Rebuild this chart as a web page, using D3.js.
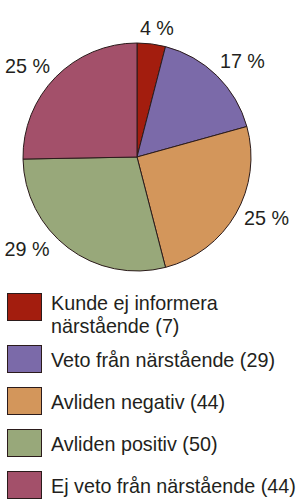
<!DOCTYPE html>
<html lang="sv">
<head>
  <meta charset="UTF-8">
  <script src="https://d3js.org/d3.v7.min.js"></script>
  <style>
    body { margin: 0; background: white; }
    text { font-family: 'Liberation Sans', Arial, sans-serif; fill: #231f20; }
    .slice { stroke: #2b1b1b; stroke-width: 1px; }
  </style>
</head>
<body>
  <svg id="chart" width="304" height="500"></svg>
  <script>
    // data
    const categories = ['Kunde ej informera närstående', 'Veto från närstående', 'Avliden negativ', 'Avliden positiv', 'Ej veto från närstående'];
    const counts = [7, 29, 44, 50, 44];
    const percentLabels = ['4 %', '17 %', '25 %', '29 %', '25 %'];
    const colors = ['#a31d0e', '#7b6aa9', '#d3965b', '#98a87a', '#a3506a'];

    const svg = d3.select('#chart');
    const cx = 137, cy = 157, radius = 114;
    const labelRadius = 143;
    const fontSize = 21;
    // small manual label tweaks (degrees) so labels sit like the original
    const labelShift = [1.5, 3, -5, 13, -4.5];

    // the original uses a condensed face; squeeze Liberation Sans horizontally
    const probe = svg.append('text').style('font-size', fontSize + 'px').text('Ej veto från närstående (44)');
    const squeeze = 245 / probe.node().getComputedTextLength();
    probe.remove();

    const pie = d3.pie().sort(null).value(d => d);
    const arcs = pie(counts);
    const arc = d3.arc().innerRadius(0).outerRadius(radius);

    const g = svg.append('g').attr('transform', 'translate(' + cx + ',' + cy + ')');

    g.selectAll('path.slice').data(arcs)
      .join('path')
      .attr('class', 'slice')
      .attr('d', arc)
      .attr('fill', (d, i) => colors[i]);

    g.selectAll('text.pct').data(arcs)
      .join('text')
      .attr('class', 'pct')
      .attr('text-anchor', 'middle')
      .style('font-size', fontSize + 'px')
      .attr('transform', (d, i) => {
        let a = (d.startAngle + d.endAngle) / 2 + labelShift[i] * Math.PI / 180;
        let r = i == 0 ? 131 : labelRadius;
        let x = r * Math.sin(a);
        let y = -r * Math.cos(a) + 7.5;
        return 'translate(' + x + ',' + y + ') scale(' + squeeze + ',1)';
      })
      .text((d, i) => percentLabels[i]);

    // legend
    const legend = svg.append('g').attr('id', 'legend');
    const textX = 51, maxW = 250, lineH = 23;
    let rowTop = 293;

    categories.forEach((c, i) => {
      const label = c + ' (' + counts[i] + ')';
      const t = legend.append('text')
        .attr('transform', 'translate(' + textX + ',0) scale(' + squeeze + ',1)')
        .style('font-size', fontSize + 'px');

      // simple word wrap
      const words = label.split(' ');
      let lines = [], cur = '';
      words.forEach(w => {
        const test = cur ? cur + ' ' + w : w;
        t.text(test);
        if (t.node().getComputedTextLength() * squeeze > maxW && cur) {
          lines.push(cur);
          cur = w;
        } else {
          cur = test;
        }
      });
      lines.push(cur);
      t.text(null);

      legend.append('rect')
        .attr('x', 7.5)
        .attr('y', rowTop + 0.5)
        .attr('width', 34)
        .attr('height', 27)
        .attr('fill', colors[i])
        .attr('stroke', '#2b1b1b')
        .attr('stroke-width', 1);

      const firstBase = lines.length > 1 ? rowTop + 17 : rowTop + 22;
      lines.forEach((l, j) => {
        t.append('tspan')
          .attr('x', 0)
          .attr('y', firstBase + j * lineH)
          .text(l);
      });

      rowTop += 42 + (lines.length - 1) * 10;
    });
  </script>
</body>
</html>
